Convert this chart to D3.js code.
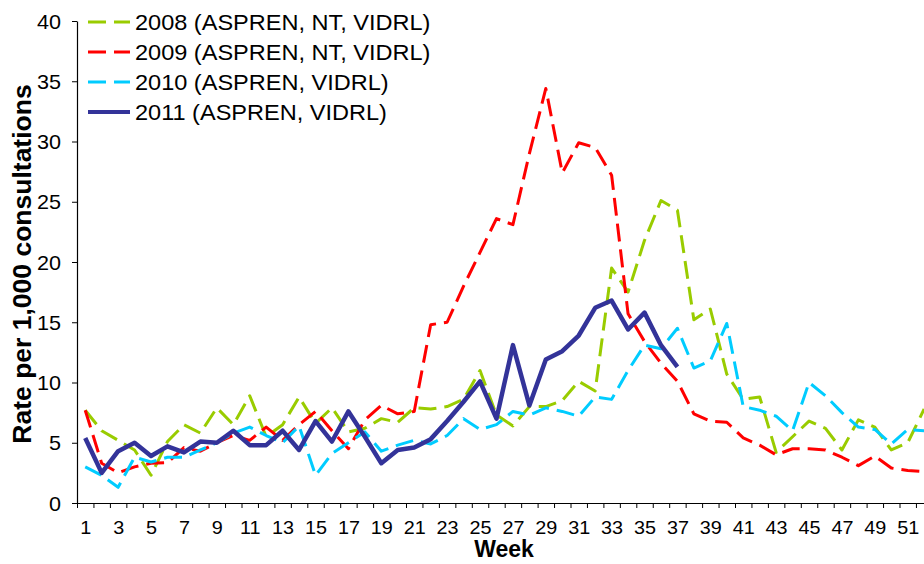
<!DOCTYPE html>
<html><head><meta charset="utf-8">
<script src="https://cdn.jsdelivr.net/npm/d3@7"></script>
<style>
html,body{margin:0;padding:0;background:#fff;overflow:hidden}
svg{display:block}
text{font-family:"Liberation Sans",Arial,Helvetica,sans-serif;fill:#000}
</style></head><body>
<svg id="chart" width="924" height="564"></svg>
<script>
// ---- data ----
const weeks = d3.range(1, 53);
const weekLabels = weeks.filter(w => w % 2 === 1);
const yTicks = [0, 5, 10, 15, 20, 25, 30, 35, 40];
const seriesNames = ["2008 (ASPREN, NT, VIDRL)", "2009 (ASPREN, NT, VIDRL)", "2010 (ASPREN, VIDRL)", "2011 (ASPREN, VIDRL)"];
const seriesColors = ["#99CC00", "#FF0000", "#00CCFF", "#333399"];
const values2008 = [7.7,6.0,5.2,4.4,2.3,5.1,6.5,5.8,7.9,6.5,8.9,5.5,6.5,8.8,6.6,7.9,5.9,6.2,7.0,6.7,7.9,7.8,8.0,8.6,11.0,7.3,6.4,8.0,8.0,8.5,10.1,9.3,19.5,17.5,21.8,25.1,24.3,15.2,16.1,10.7,8.6,8.8,4.2,5.5,6.8,6.2,4.4,6.9,6.3,4.4,5.0,7.8];
const values2009 = [7.7,3.3,2.5,3.0,3.3,3.35,4.6,4.3,5.0,5.6,5.2,6.3,5.2,6.5,7.6,6.0,4.5,6.9,8.1,7.4,7.6,14.8,15.0,18.0,20.8,23.6,23.1,29.0,34.4,27.4,29.9,29.5,27.2,15.7,13.4,11.6,10.1,7.4,6.8,6.7,5.4,4.8,4.0,4.5,4.5,4.4,3.8,3.1,3.9,2.9,2.7,2.6];
const values2010 = [3.0,2.3,1.3,3.8,3.4,3.8,3.8,4.4,5.0,5.8,6.3,5.6,5.0,6.4,2.3,4.1,5.0,5.9,4.3,4.8,5.2,4.9,5.6,7.0,6.1,6.5,7.6,7.3,7.9,7.6,7.2,8.8,8.6,11.0,13.1,12.8,14.5,11.2,11.8,14.9,8.0,7.7,7.2,6.0,10.0,8.9,7.5,6.3,6.1,4.9,6.1,6.0];
const values2011 = [5.4,2.5,4.3,5.0,3.9,4.7,4.2,5.1,5.0,6.0,4.8,4.8,6.0,4.4,6.8,5.1,7.6,5.5,3.3,4.4,4.6,5.3,6.8,8.4,10.1,7.0,13.1,8.1,11.9,12.6,13.9,16.2,16.8,14.4,15.8,13.1,11.3];
const seriesValues = [values2008, values2009, values2010, values2011];
const seriesDashed = [true, true, true, false];

// ---- layout ----
const svg = d3.select("#chart");
const axisX0 = 77, band = 16.45, baseY = 503, topY = 21;
const x = d3.scaleLinear().domain([0.5, 52.5]).range([axisX0, axisX0 + 52 * band]);
const y = d3.scaleLinear().domain([0, 40]).range([baseY, topY]);

// y axis
const yAxis = svg.append("g").attr("transform", `translate(${axisX0},0)`)
  .call(d3.axisLeft(y).tickValues(yTicks).tickSize(5).tickPadding(10).tickSizeOuter(0));
yAxis.select(".domain").attr("stroke", "#000").attr("stroke-width", 1.2);
yAxis.selectAll(".tick line").attr("stroke", "#000");
yAxis.selectAll(".tick text").attr("font-size", 20).attr("font-family", null)
  .attr("transform", "translate(-15,0) scale(1.08,1)").attr("x", -1).attr("dy", "0.35em");

// x axis tick marks (between categories)
const boundaries = d3.range(0.5, 53, 1);
const xAxisTicks = svg.append("g").attr("transform", `translate(0,${baseY})`)
  .call(d3.axisBottom(x).tickValues(boundaries).tickSize(5).tickFormat("").tickSizeOuter(0));
xAxisTicks.select(".domain").attr("stroke", "#000").attr("stroke-width", 1.2);
xAxisTicks.selectAll(".tick line").attr("stroke", "#000");

// x axis labels (odd weeks)
const xLabels = svg.append("g").attr("transform", `translate(0,${baseY})`)
  .call(d3.axisBottom(x).tickValues(weekLabels).tickSize(0).tickPadding(18).tickFormat(d3.format("d")));
xLabels.select(".domain").remove();
xLabels.selectAll(".tick text").attr("font-size", 18).attr("font-family", null)
  .attr("transform", "scale(1.1,1)");

// axis titles
svg.append("text").attr("x", 504).attr("y", 557).attr("text-anchor", "middle")
  .attr("font-size", 23).attr("font-weight", "bold").text("Week");
svg.append("text").attr("transform", "translate(31,264) rotate(-90)").attr("text-anchor", "middle")
  .attr("font-size", 26.5).attr("font-weight", "bold").text("Rate per 1,000 consultations");

// lines
const line = d3.line().x((d, i) => x(i + 1)).y(d => y(d)).curve(d3.curveLinear);
const plot = svg.append("g");
seriesValues.forEach((vals, k) => {
  plot.append("path").datum(vals)
    .attr("d", line)
    .attr("fill", "none")
    .attr("stroke", seriesColors[k])
    .attr("stroke-width", seriesDashed[k] ? 3 : 4.5)
    .attr("stroke-dasharray", seriesDashed[k] ? "18,8" : null)
    .attr("stroke-linejoin", "round");
});

// legend
const legend = svg.append("g");
seriesNames.forEach((name, k) => {
  const ly = 22 + k * 30;
  legend.append("line").attr("x1", 88).attr("x2", 130).attr("y1", ly).attr("y2", ly)
    .attr("stroke", seriesColors[k]).attr("stroke-width", seriesDashed[k] ? 3.2 : 4.2)
    .attr("stroke-dasharray", seriesDashed[k] ? "18,8" : null);
  legend.append("text").attr("transform", `translate(135,${ly + 8}) scale(1.07,1)`)
    .attr("font-size", 22).text(name);
});
</script>
</body></html>
